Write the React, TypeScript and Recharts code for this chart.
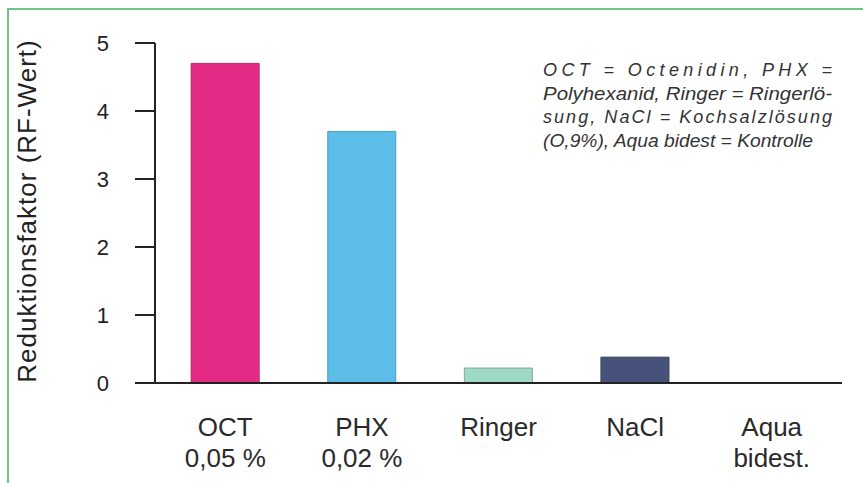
import { BarChart, Bar, XAxis, YAxis, Cell } from 'recharts';

// Reduktionsfaktor je Lösung
const categories = ['OCT', 'PHX', 'Ringer', 'NaCl', 'Aqua'];
const subLabels = ['0,05 %', '0,02 %', '', '', 'bidest.'];
const rfValues = [4.7, 3.7, 0.22, 0.38, 0];
const yTicks = [0, 1, 2, 3, 4, 5];
const barColors = ['#e32a84', '#5cbde9', '#9fdac5', '#46527a'];
const barStrokes = ['#b8256c', '#4a9cc4', '#7fa89a', '#323b5a'];
const noteLines = [
  'OCT = Octenidin, PHX =',
  'Polyhexanid, Ringer = Ringerlö-',
  'sung, NaCl = Kochsalzlösung',
  '(O,9%), Aqua bidest = Kontrolle',
];
const noteWidths = [289, 289, 289, 270];

const data = categories.map((c, i) => ({ name: c, sub: subLabels[i], rf: rfValues[i] }));

const FONT = '"Liberation Sans", Arial, sans-serif';
const INK = '#222';

function XTick({ x, y, payload, index }: any) {
  const sub = subLabels[index] ?? '';
  return (
    <g>
      <text x={x} y={y + 53} textAnchor="middle" fontFamily={FONT} fontSize={26} fill="#2a2a2a">
        {payload.value}
      </text>
      {sub && (
        <text x={x} y={y + 84} textAnchor="middle" fontFamily={FONT} fontSize={26} fill="#2a2a2a">
          {sub}
        </text>
      )}
    </g>
  );
}

export default function App() {
  return (
    <div
      style={{
        position: 'absolute',
        left: 0,
        top: 0,
        width: 863,
        height: 483,
        background: '#fff',
        overflow: 'hidden',
      }}
    >
      {/* green frame */}
      <div style={{ position: 'absolute', left: 7, top: 8, width: 856, height: 2, background: '#72c480' }} />
      <div style={{ position: 'absolute', left: 7, top: 8, width: 2, height: 475, background: '#72c480' }} />

      <div style={{ position: 'absolute', left: 0, top: 0 }}>
        <BarChart
          width={863}
          height={483}
          data={data}
          margin={{ top: 43, right: 21, bottom: 0, left: 0 }}
          barCategoryGap="25%"
        >
          <XAxis
            dataKey="name"
            axisLine={{ stroke: INK, strokeWidth: 2 }}
            tickLine={false}
            tickSize={0}
            tickMargin={0}
            padding={{ left: 2, right: 2 }}
            interval={0}
            height={100}
            tick={<XTick />}
          />
          <YAxis
            width={155}
            domain={[0, 5]}
            ticks={yTicks}
            interval={0}
            axisLine={{ stroke: INK, strokeWidth: 2 }}
            tickLine={{ stroke: INK, strokeWidth: 2 }}
            tickSize={20}
            tickMargin={26}
            tick={{ fontSize: 22, fill: INK, fontFamily: FONT }}
          />
          <Bar dataKey="rf" isAnimationActive={false}>
            {data.map((d, i) => (
              <Cell key={d.name} fill={barColors[i % barColors.length]} stroke={barStrokes[i % barStrokes.length]} strokeWidth={1} />
            ))}
          </Bar>
        </BarChart>
      </div>

      {/* axis title and note */}
      <svg width={863} height={483} style={{ position: 'absolute', left: 0, top: 0, pointerEvents: 'none' }}>
        <text
          x={36}
          y={211}
          transform="rotate(-90 36 211)"
          textAnchor="middle"
          fontFamily={FONT}
          fontSize={26}
          letterSpacing={1}
          fill="#222"
        >
          Reduktionsfaktor (RF-Wert)
        </text>
        {noteLines.map((line, i) => (
          <text
            key={i}
            x={543}
            y={76 + i * 23.7}
            fontFamily={FONT}
            fontSize={18}
            fontStyle="italic"
            fill="#333"
            textLength={noteWidths[i]}
            lengthAdjust={i === 1 || i === 3 ? 'spacingAndGlyphs' : 'spacing'}
          >
            {line}
          </text>
        ))}
      </svg>
    </div>
  );
}
